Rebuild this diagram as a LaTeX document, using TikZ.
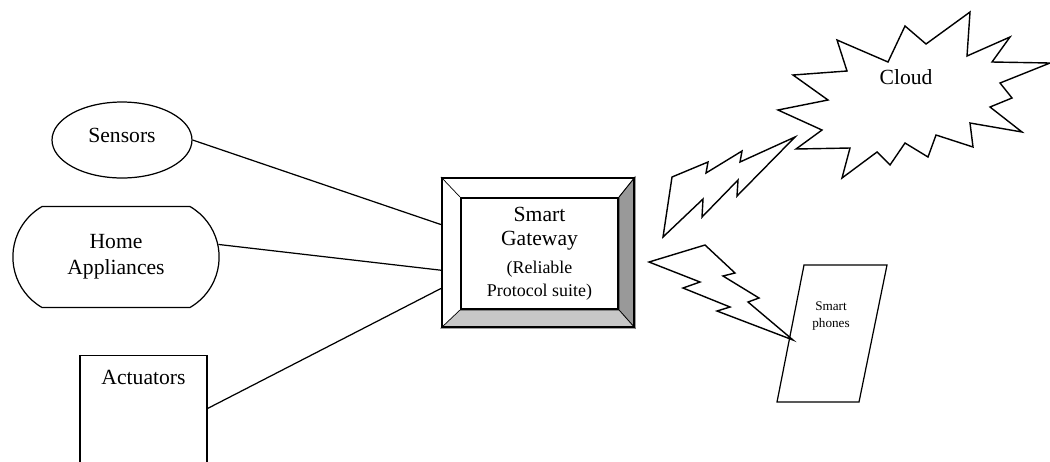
\documentclass[tikz,border=0pt]{standalone}
\usepackage{fontspec}
\setmainfont{Liberation Serif}
\usetikzlibrary{shapes.geometric, shapes.misc, calc, backgrounds}
\definecolor{bevdark}{gray}{0.6}
\definecolor{bevlight}{gray}{0.78}

\begin{document}
\begin{tikzpicture}[x=0.02cm, y=-0.02cm, line width=0.7pt, font=\fontsize{12.3}{14.8}\selectfont]
        \tikzstyle{oval} = [ellipse, draw, minimum width=2.8cm, minimum height=1.52cm, inner sep=0pt, text depth=0.2cm]
        \tikzstyle{pill} = [rounded rectangle, rounded rectangle arc length=120, draw, minimum width=4.36cm, minimum height=2.02cm, align=center]
        \tikzstyle{box} = [rectangle, draw, minimum width=2.54cm, minimum height=2.3cm]
        \tikzstyle{frame} = [rectangle, draw, line width=1.3pt, inner sep=0pt]
        \tikzstyle{bolt} = [draw, line width=0.8pt, line join=miter]

        \useasboundingbox (0,0) rectangle (1050,461);

        % devices on the left
        \node [oval] (sensors) at (122,140) {Sensors};
        \node [pill] (home) at (116,257) {Home\\Appliances};
        \node [box, anchor=north] (act) at (143.5,355) {};
        \node [anchor=north, inner sep=0pt] (actlabel) at (143.5,370) {Actuators};

        % gateway with bevelled frame
        \node [frame, minimum width=3.84cm, minimum height=2.98cm] (gw) at (538,252.5) {};
        \node [frame, minimum width=3.14cm, minimum height=2.22cm, align=center] (gwin) at (539.5,253.5)
            {Smart\\[-1pt]Gateway\\[1pt]{\fontsize{10.2}{12}\selectfont(Reliable}\\[-2pt]{\fontsize{10.2}{12}\selectfont Protocol suite)}};
        \begin{scope}[on background layer]
            \filldraw [fill=bevdark] (gw.north east) -- (gw.south east) -- (gwin.south east) -- (gwin.north east) -- cycle;
            \filldraw [fill=bevlight] (gw.south west) -- (gw.south east) -- (gwin.south east) -- (gwin.south west) -- cycle;
            \draw (gw.north west) -- (gwin.north west);
            \draw (gw.north east) -- (gwin.north east);
        \end{scope}

        \draw (sensors.east) -- ($(gw.north west)!0.315!(gw.south west)$);
        \draw (home.7) -- ($(gw.north west)!0.617!(gw.south west)$);
        \draw ($(act.north east)!0.46!(act.south east)$) -- ($(gw.north west)!0.738!(gw.south west)$);

        % cloud
        \draw [line width=0.8pt] (837,40) -- (888,62) -- (905,26) -- (926,44) -- (970,12) -- (967,56) -- (1010,37)
            -- (992,62) -- (1050,63) -- (1000,83) -- (1012,98) -- (990,107) -- (1022,132) -- (970,123)
            -- (973,147) -- (936,135) -- (928,157) -- (905,143) -- (890,165) -- (877,152) -- (842,178)
            -- (850,148) -- (796,149) -- (822,130) -- (778,110) -- (828,100) -- (793,75) -- (847,71) -- cycle;
        \node (cloud) at (906,77) {Cloud};

        % smart phone
        \draw (804,265) -- (887,265) -- (859,402) -- (777,402) -- cycle;
        \node [align=center, font=\fontsize{7.5}{9.7}\selectfont] (phone) at (831,316) {Smart\\phones};

        % wireless links
        \path [bolt] (663,237) -- (672,177) -- (708,162) -- (706,173) -- (742,151) -- (740,162) -- (795,137)
            -- (737,196) -- (738,180) -- (702,217) -- (703,199) -- cycle;
        \path [bolt] (649,262) -- (705,245) -- (735,273) -- (723,276) -- (759,298) -- (748,302) -- (793,340)
            -- (717,311) -- (730,307) -- (683,288) -- (700,282) -- cycle;
    \end{tikzpicture}
\end{document}
